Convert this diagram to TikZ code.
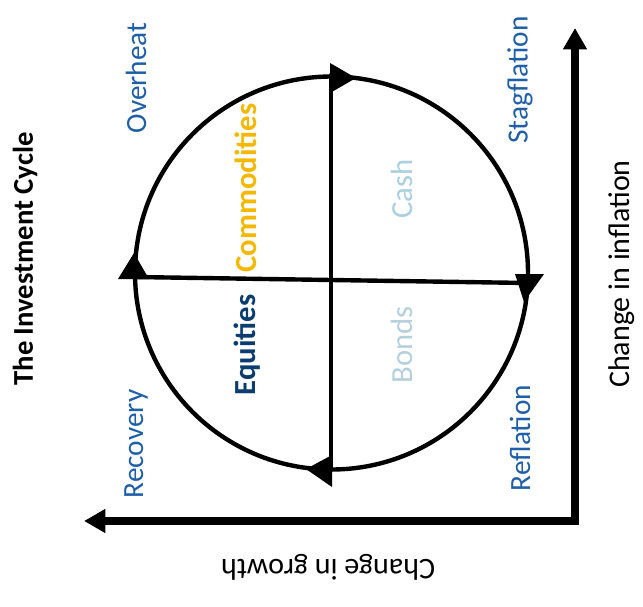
\documentclass[tikz,border=0pt]{standalone}
\usepackage{fontspec}
\setmainfont{Carlito}
\usetikzlibrary{arrows.meta}
\definecolor{phase}{HTML}{1F5FA8}
\definecolor{commod}{HTML}{F5B800}
\definecolor{cashc}{HTML}{A9CFE0}
\definecolor{equit}{HTML}{0B3D6F}
\definecolor{bondc}{HTML}{B5D0DD}
\tikzset{
  phaselbl/.style={rotate=90,text=phase,font=\fontsize{22}{26}\selectfont,inner sep=0pt},
  assetlbl/.style={rotate=90,font=\fontsize{23}{27}\selectfont,inner sep=0pt},
  cycleline/.style={line width=3.3pt,line cap=round},
  headtri/.style={fill=black},
  axisline/.style={line width=6pt,-{Triangle[length=16pt,width=17pt]}},
}
\begin{document}
\begin{tikzpicture}[x=0.75pt,y=-0.75pt]
\useasboundingbox (0,0) rectangle (643,607);
% circle
\coordinate (c) at (331.5,273);
\draw[cycleline] (c) circle[radius=196.5];
\coordinate (hl) at (135,277);
\coordinate (hr) at (528,283);
\coordinate (vt) at (331,75);
\coordinate (vb) at (331,470);
\draw[cycleline] (hl) -- (hr);
\draw[cycleline] (vt) -- (vb);
% arrowheads on circle
\fill[headtri] (330,63) -- (330,93) -- (356,78) -- cycle;
\fill[headtri] (118,279) -- (149,279) -- (134,253) -- cycle;
\fill[headtri] (515,274) -- (544,274) -- (524,302) -- cycle;
\fill[headtri] (332,455) -- (332,487) -- (306,469) -- cycle;
% axes
\coordinate (o) at (575,521);
\coordinate (ytop) at (575,28);
\coordinate (xleft) at (84,521);
\draw[axisline] ([yshift=-3pt]o) -- (ytop);
\draw[axisline] ([xshift=3pt]o) -- (xleft);
% phase labels
\node[phaselbl] (overheat) at (136,78) {Overheat};
\node[phaselbl] (stag) at (520,80) {Stagflation};
\node[phaselbl] (recov) at (136,444) {Recovery};
\node[phaselbl] (refl) at (520,438) {Reflation};
% asset labels
\node[assetlbl,text=commod,font=\fontsize{23}{27}\bfseries] (comm) at (246,188) {Commodities};
\node[assetlbl,text=cashc] (cash) at (402,189) {Cash};
\node[assetlbl,text=equit,font=\fontsize{23}{27}\bfseries] (eq) at (247,345) {Equities};
\node[assetlbl,text=bondc] (bonds) at (402,345) {Bonds};
% axis titles
\node[rotate=90,inner sep=0pt,font=\fontsize{21.5}{25}\bfseries] (title) at (25,259) {The Investment Cycle};
\node[rotate=90,inner sep=0pt,font=\fontsize{22.5}{26}\selectfont] (infl) at (622,274) {Change in inflation};
\node[rotate=180,inner sep=0pt,font=\fontsize{22.5}{26}\selectfont] (growth) at (328,567) {Change in growth};
\end{tikzpicture}
\end{document}
